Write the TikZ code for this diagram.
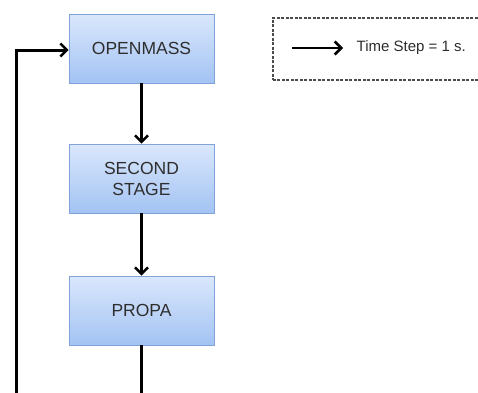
\documentclass[tikz,border=0pt]{standalone}
\usepackage{fontspec}
\setmainfont{Liberation Sans}
\usetikzlibrary{arrows.meta,shadows}
\definecolor{boxtop}{HTML}{DAE7FC}
\definecolor{boxbot}{HTML}{A3C3F3}
\definecolor{boxline}{HTML}{80A4DA}
\tikzset{
  stagebox/.style={rectangle, minimum width=145pt, minimum height=69pt,
    top color=boxtop, bottom color=boxbot, draw=boxline, line width=0.9pt,
    drop shadow={shadow xshift=1pt, shadow yshift=-1.2pt, opacity=0.3},
    font=\fontsize{17.5}{21}\selectfont, text=black!82, align=center},
  flow/.style={line width=3pt, -{Straight Barb[length=6.5pt,width=13pt,line width=2.5pt]}},
  plain/.style={line width=3pt},
  legendbox/.style={draw=black!70, dash pattern=on 3pt off 1.5pt, line width=1.8pt, fill=white}
}
\begin{document}
\begin{tikzpicture}[x=1pt,y=-1pt]
  \useasboundingbox (0,0) rectangle (478,392);
  % legend
  \begin{scope}
    \clip (0,0) rectangle (478,392);
    \node[legendbox, minimum width=220pt, minimum height=62pt, anchor=north west] (legend) at (272,17) {};
  \end{scope}
  \coordinate (la) at (292,48);
  \coordinate (lb) at (343,48);
  \draw[flow, line width=2.6pt] (la) -- (lb);
  \node[anchor=west, font=\fontsize{15}{17}\selectfont, text=black!82, inner sep=0pt] (ltext) at (356.5,48) {Time Step = 1 s.};
  % stages
  \node[stagebox] (open) at (141.5,48.5) {OPENMASS};
  \node[stagebox] (second) at (141.5,178.5) {SECOND\\STAGE};
  \node[stagebox] (propa) at (141.5,310.5) {PROPA};
  \coordinate (bot) at (141.5,400);
  \coordinate (loopb) at (16,400);
  \coordinate (loopt) at (16,50);
  \draw[flow] (open) -- (second);
  \draw[flow] (second) -- (propa);
  \draw[plain] (propa) -- (bot);
  \draw[flow] (loopb) -- (loopt) -- (open.west |- loopt);
\end{tikzpicture}
\end{document}
